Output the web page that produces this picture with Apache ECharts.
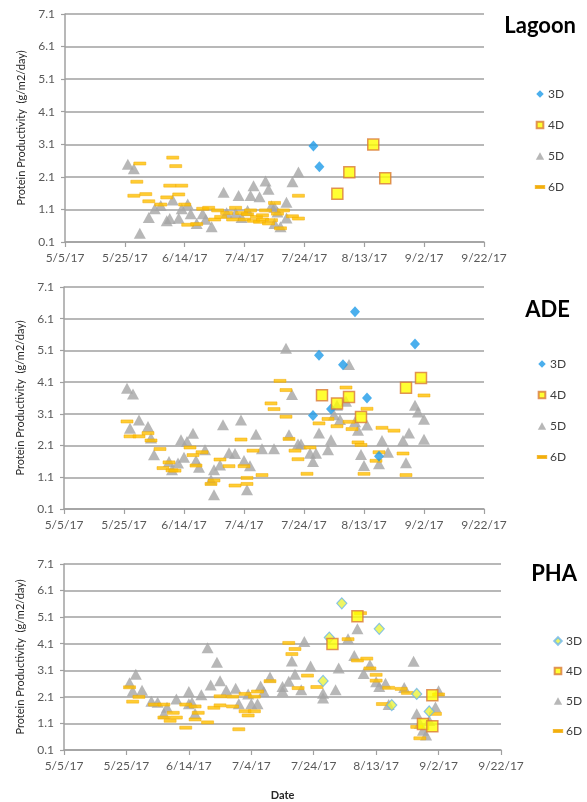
<!DOCTYPE html>
<html><head><meta charset="utf-8">
<script src="https://cdn.jsdelivr.net/npm/echarts@6/dist/echarts.min.js"></script>
<style>html,body{margin:0;padding:0;background:#fff}#c{width:587px;height:802px}</style>
</head><body><div id="c"></div>
<script>
// ---- tick labels ----
const xTickLabels = ['5/5/17','5/25/17','6/14/17','7/4/17','7/24/17','8/13/17','9/2/17','9/22/17'];
const yTickLabels = ['0.1','1.1','2.1','3.1','4.1','5.1','6.1','7.1'];
const panels = ['Lagoon','ADE','PHA'];
const seriesTypes = ['3D','4D','5D','6D'];

// ---- Lagoon ----
const lagoon3D = [['7/27',3.05],['7/29',2.41]];
const lagoon4D = [['8/4',1.58],['8/8',2.24],['8/16',3.09],['8/20',2.06]];
const lagoon5D = [['5/26',2.49],['5/28',2.35],['5/30',0.37],['6/2',0.85],['6/4',1.12],['6/6',1.22],['6/8',0.75],['6/9',0.82],['6/10',1.39],['6/12',0.83],['6/13',1.12],['6/15',1.27],['6/16',0.97],['6/18',0.67],['6/20',0.97],['6/21',0.80],['6/23',0.57],['6/27',1.63],['6/28',1.00],['7/1',1.00],['7/2',1.53],['7/3',0.85],['7/5',1.07],['7/6',1.53],['7/7',1.83],['7/9',1.49],['7/11',1.97],['7/12',1.72],['7/13',1.21],['7/14',1.17],['7/14',0.67],['7/15',1.02],['7/16',0.57],['7/18',1.32],['7/18',0.84],['7/20',1.95],['7/22',2.25]];
const lagoon6D = [['5/28',1.52],['5/29',1.95],['5/30',2.51],['6/1',1.57],['6/2',1.35],['6/6',1.25],['6/8',1.47],['6/9',1.83],['6/10',2.69],['6/11',2.43],['6/12',1.56],['6/13',1.83],['6/14',1.25],['6/15',0.63],['6/18',0.65],['6/20',1.12],['6/22',1.15],['6/24',0.79],['6/25',1.07],['6/26',0.87],['6/28',0.99],['6/30',0.79],['7/1',1.15],['7/3',0.99],['7/4',0.79],['7/5',0.95],['7/6',1.07],['7/7',0.75],['7/8',0.87],['7/9',0.72],['7/10',0.92],['7/10',0.79],['7/11',1.07],['7/12',0.67],['7/13',0.77],['7/14',1.30],['7/15',0.97],['7/16',0.52],['7/17',1.07],['7/20',0.89],['7/22',0.82],['7/22',1.52]];

// ---- ADE ----
const ade3D = [['7/27',3.05],['7/29',4.95],['8/2',3.25],['8/6',4.65],['8/10',6.32],['8/14',3.60],['8/18',1.76],['8/30',5.30]];
const ade4D = [['7/30',3.69],['8/4',3.43],['8/8',3.63],['8/12',3.00],['8/27',3.92],['9/1',4.23]];
const ade5D = [['5/26',3.91],['5/27',2.65],['5/28',3.73],['5/30',2.91],['6/2',2.70],['6/3',2.34],['6/4',1.81],['6/9',1.60],['6/10',1.34],['6/12',1.55],['6/13',2.28],['6/14',1.73],['6/15',2.23],['6/17',2.49],['6/18',1.63],['6/19',1.42],['6/21',1.97],['6/23',1.02],['6/24',1.34],['6/24',0.55],['6/26',1.49],['6/27',2.76],['6/29',1.87],['7/1',1.85],['7/3',2.91],['7/4',1.63],['7/5',0.71],['7/6',1.46],['7/8',2.46],['7/10',2.00],['7/14',2.00],['7/18',5.17],['7/19',2.44],['7/20',3.71],['7/22',2.15],['7/23',2.15],['7/26',1.86],['7/27',1.60],['7/28',1.86],['7/29',2.50],['8/1',1.97],['8/2',2.28],['8/3',3.07],['8/4',3.37],['8/5',2.92],['8/7',3.50],['8/8',4.66],['8/10',2.85],['8/11',2.58],['8/12',1.82],['8/13',1.47],['8/14',2.75],['8/18',1.53],['8/19',2.26],['8/21',1.89],['8/26',2.26],['8/27',1.56],['8/28',2.50],['8/30',3.37],['8/31',3.16],['9/2',2.93],['9/2',2.30]];
const ade6D = [['5/26',2.86],['5/27',2.39],['5/30',2.39],['6/2',2.49],['6/3',2.26],['6/6',1.99],['6/7',1.39],['6/9',1.57],['6/10',1.32],['6/11',1.31],['6/16',2.04],['6/17',1.80],['6/18',1.47],['6/20',1.89],['6/23',0.89],['6/24',1.00],['6/26',1.66],['6/29',1.45],['7/1',0.84],['7/3',2.29],['7/4',1.45],['7/5',1.08],['7/5',0.89],['7/7',1.94],['7/10',1.17],['7/13',3.43],['7/14',3.25],['7/16',4.14],['7/18',3.85],['7/18',3.01],['7/19',2.31],['7/21',1.94],['7/22',1.67],['7/25',1.21],['7/26',2.04],['7/29',2.80],['8/1',2.94],['8/4',2.71],['8/7',3.93],['8/8',2.85],['8/9',2.62],['8/11',2.20],['8/12',2.12],['8/13',1.21],['8/14',3.26],['8/17',1.62],['8/18',1.89],['8/19',2.66],['8/23',2.57],['8/26',1.85],['8/27',1.17],['9/2',3.68]];

// ---- PHA ----
const pha3D = [['7/27',2.70],['7/29',4.33],['8/2',5.62],['8/14',4.66],['8/18',1.79],['8/26',2.21],['8/30',1.55]];
const pha4D = [['7/30',4.09],['8/7',5.13],['8/28',1.08],['8/31',2.16],['8/31',0.99]];
const pha5D = [['5/26',2.63],['5/27',2.32],['5/28',2.95],['5/30',2.35],['6/2',1.93],['6/4',1.90],['6/6',1.47],['6/7',1.71],['6/10',2.02],['6/14',2.30],['6/14',1.84],['6/15',1.90],['6/16',1.47],['6/18',2.18],['6/20',3.95],['6/21',2.55],['6/23',3.40],['6/24',2.71],['6/26',2.35],['6/29',2.42],['6/30',1.84],['7/3',2.21],['7/4',1.84],['7/6',1.84],['7/7',2.51],['7/8',2.30],['7/10',2.85],['7/14',2.32],['7/14',2.49],['7/16',2.69],['7/17',3.45],['7/18',2.95],['7/20',2.37],['7/21',4.18],['7/23',3.26],['7/27',2.24],['7/27',2.06],['7/31',2.37],['8/1',3.19],['8/4',4.29],['8/6',3.66],['8/7',4.66],['8/9',2.98],['8/11',3.31],['8/13',2.67],['8/14',2.49],['8/16',2.61],['8/17',1.81],['8/22',2.45],['8/25',3.44],['8/26',1.46],['8/27',1.11],['8/28',0.84],['8/29',0.66],['8/30',1.21],['9/1',1.72],['9/2',2.33]];
const pha6D = [['5/26',2.46],['5/27',1.92],['5/29',2.10],['6/3',1.81],['6/6',1.81],['6/6',1.32],['6/8',1.20],['6/9',1.50],['6/10',1.32],['6/13',0.94],['6/13',1.81],['6/16',1.74],['6/16',1.25],['6/17',1.50],['6/20',1.14],['6/22',1.69],['6/24',1.78],['6/24',2.12],['6/28',2.11],['6/28',1.74],['6/30',0.88],['7/2',2.21],['7/2',1.56],['7/3',1.40],['7/5',1.56],['7/5',2.11],['7/6',2.30],['7/10',2.69],['7/16',4.13],['7/17',3.71],['7/18',3.90],['7/19',2.43],['7/22',2.90],['7/25',2.47],['8/4',4.27],['8/7',3.47],['8/8',5.25],['8/10',3.54],['8/11',3.17],['8/13',2.93],['8/13',2.71],['8/15',1.83],['8/17',2.44],['8/21',2.40],['8/23',2.25],['8/26',0.97],['8/27',0.54],['9/1',1.46],['9/2',2.19]];

const panelData = {
  Lagoon: {'3D': lagoon3D, '4D': lagoon4D, '5D': lagoon5D, '6D': lagoon6D},
  ADE: {'3D': ade3D, '4D': ade4D, '5D': ade5D, '6D': ade6D},
  PHA: {'3D': pha3D, '4D': pha4D, '5D': pha5D, '6D': pha6D}
};

const BASE = Date.UTC(2017, 4, 5);
function dayOf(s) { const [m, d] = s.split('/').map(Number); return (Date.UTC(2017, m - 1, d) - BASE) / 86400000; }

const FONT = 'Lato, "Liberation Sans", sans-serif';
const gridBoxes = [
  {left: 65, top: 14, width: 419, height: 228},
  {left: 64, top: 287, width: 420, height: 222},
  {left: 64, top: 564, width: 437, height: 190}
];
const legendPos = [
  {left: 534, top: 88, itemGap: 19},
  {left: 536, top: 358, itemGap: 19},
  {left: 552, top: 635, itemGap: 18}
];
const titlePos = [
  {text: 'Lagoon', right: 11, top: 15},
  {text: 'ADE', right: 17, top: 299},
  {text: 'PHA', right: 10, top: 563}
];

const ICON = {
  '3D': 'path://M0,0M12,12M6,1.5L10.5,6L6,10.5L1.5,6Z',
  '4D': 'path://M0,0M12,12M2,2H10V10H2Z',
  '5D': 'path://M0,0M12,12M6,1.5L11,10.5H1Z',
  '6D': 'path://M0,0M12,12M1,4.8H11V7.2H1Z'
};

function styleFor(panel, t) {
  if (t === '3D') {
    if (panel === 'PHA') return {symbol: 'diamond', symbolSize: [10, 11], itemStyle: {color: '#EAF23C', borderColor: '#6DB6EA', borderWidth: 1.2}};
    return {symbol: 'diamond', symbolSize: [10, 11], itemStyle: {color: '#1E9BE9'}};
  }
  if (t === '4D') return {symbol: 'rect', symbolSize: 11, itemStyle: {color: '#FFFF00', borderColor: '#D9793A', borderWidth: 1.5}};
  if (t === '5D') return {symbol: 'triangle', symbolSize: [12, 11], itemStyle: {color: '#A5A5A5'}};
  return {symbol: 'rect', symbolSize: [12, 3], itemStyle: {color: '#FFC000', borderColor: '#F0A800', borderWidth: 0.5}};
}

const series = [];
panels.forEach((p, i) => {
  seriesTypes.forEach(t => {
    const st = styleFor(p, t);
    series.push({
      name: p + '|' + t, type: 'scatter', xAxisIndex: i, yAxisIndex: i,
      symbol: st.symbol, symbolSize: st.symbolSize, itemStyle: st.itemStyle,
      z: (t === '3D' || t === '4D') ? 4 : 3,
      emphasis: {disabled: true}, animation: false,
      data: panelData[p][t].map(([d, v]) => [dayOf(d), v])
    });
  });
});

const axisGray = '#A0A0A0';
const option = {
  animation: false,
  textStyle: {fontFamily: FONT},
  title: titlePos.map(tp => ({text: tp.text, right: tp.right, top: tp.top, padding: 0,
    textStyle: {fontFamily: FONT, fontSize: 22, fontWeight: 'bold', color: '#000'}})),
  grid: gridBoxes,
  legend: panels.map((p, i) => ({
    orient: 'vertical', left: legendPos[i].left, top: legendPos[i].top, itemGap: legendPos[i].itemGap,
    itemWidth: 10, itemHeight: 10, padding: 0, selectedMode: false,
    formatter: n => n.split('|')[1],
    textStyle: {fontSize: 12, color: '#404040', fontFamily: FONT, padding: [0, 0, 0, -2]},
    data: seriesTypes.map(t => ({name: p + '|' + t, icon: ICON[t]}))
  })),
  xAxis: panels.map((p, i) => ({
    type: 'value', gridIndex: i, min: 0, max: 140, interval: 20,
    name: i === 2 ? 'Date' : '', nameLocation: 'middle', nameGap: 40,
    nameTextStyle: {fontSize: 11, fontWeight: 'bold', color: '#262626', fontFamily: FONT},
    axisLine: {show: true, onZero: false, lineStyle: {color: axisGray, width: 1.5}},
    axisTick: {show: true, length: 5, lineStyle: {color: axisGray, width: 1.2}},
    splitLine: {show: false},
    axisLabel: {margin: 10, fontSize: 12, color: '#595959', fontFamily: FONT,
      formatter: v => xTickLabels[Math.round(v / 20)] || ''}
  })),
  yAxis: panels.map((p, i) => ({
    type: 'value', gridIndex: i, min: 0.1, max: 7.1, interval: 1,
    name: 'Protein Productivity  (g/m2/day)', nameLocation: 'middle', nameGap: 38,
    nameTextStyle: {fontSize: 11, color: '#262626', fontFamily: FONT},
    axisLine: {show: true, lineStyle: {color: axisGray, width: 1.5}},
    axisTick: {show: true, length: 4, lineStyle: {color: axisGray, width: 1.2}},
    splitLine: {show: true, lineStyle: {color: axisGray, width: 1.5}},
    axisLabel: {margin: 10, fontSize: 12, color: '#595959', fontFamily: FONT,
      formatter: v => yTickLabels[Math.round(v - 0.1)] || ''}
  })),
  series: series
};

const chart = echarts.init(document.getElementById('c'), null, {renderer: 'canvas'});
chart.setOption(option);
</script>
</body></html>
